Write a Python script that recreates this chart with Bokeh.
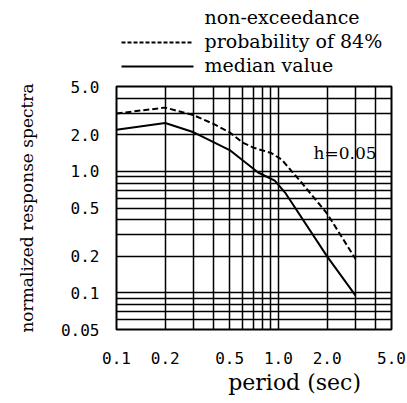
from bokeh.plotting import figure
from bokeh.layouts import column
from bokeh.models import Arrow, FixedTicker, Label, Range1d
from bokeh.embed import file_html
from bokeh.resources import INLINE

# ---- data ----
period_median = [0.1, 0.2, 0.3, 0.5, 0.75, 0.95, 1.1, 2.0, 3.0]
median = [2.2, 2.5, 2.1, 1.5, 0.98, 0.84, 0.67, 0.2, 0.095]

period_p84 = [0.1, 0.2, 0.3, 0.4, 0.5, 0.6, 0.7, 0.9, 1.05, 1.4, 2.0, 3.0]
p84 = [3.0, 3.35, 2.9, 2.45, 2.1, 1.73, 1.57, 1.42, 1.25, 0.8, 0.45, 0.19]

x_major = [0.1, 0.2, 0.5, 1.0, 2.0, 5.0]
x_labels = ["0.1", "0.2", "0.5", "1.0", "2.0", "5.0"]
x_minor = [0.3, 0.4, 0.6, 0.7, 0.8, 0.9, 3.0, 4.0]

y_major = [0.05, 0.1, 0.2, 0.5, 1.0, 2.0, 5.0]
y_labels = ["0.05", "0.1", "0.2", "0.5", "1.0", "2.0", "5.0"]
y_minor = [0.06, 0.07, 0.08, 0.09, 0.3, 0.4, 0.6, 0.7, 0.8, 0.9, 3.0, 4.0]

legend_labels = ["non-exceedance", "probability of 84%", "median value"]
damping_text = "h=0.05"
x_title = "period (sec)"
y_title = "normalized response spectra"

SERIF = "DejaVu Serif"
MONO = "DejaVu Sans Mono"
DASH = "6 3"
W = 407
LEFT, RIGHT = 116, 16

xr = Range1d(0.1, 5.0)
yr = Range1d(0.05, 5.0)


def blank(fig):
    fig.outline_line_color = None
    fig.grid.visible = False
    fig.background_fill_color = "white"
    fig.border_fill_color = "white"


# ---------- legend strip above (keys + labels) ----------
top = figure(width=W, height=76, x_range=Range1d(0, 1), y_range=Range1d(0, 1),
             output_backend="svg", toolbar_location=None,
             x_axis_location=None, y_axis_location=None,
             min_border_left=LEFT, min_border_right=RIGHT,
             min_border_top=0, min_border_bottom=0)
blank(top)

legend_rows_y = [60, 36, 12]          # screen px from the strip's bottom
legend_keys = [None, "4 2", "solid"]  # key line style per row
for lab, ly, key in zip(legend_labels, legend_rows_y, legend_keys):
    top.add_layout(Label(x=88, y=ly, x_units="screen", y_units="screen",
                         text=lab, text_font=SERIF, text_font_size="19px",
                         text_baseline="middle", text_align="left",
                         text_color="black"))
    if key is not None:
        top.add_layout(Arrow(end=None, start=None,
                             x_start=5, y_start=ly - 2, x_end=77, y_end=ly - 2,
                             start_units="screen", end_units="screen",
                             line_color="black", line_width=2, line_dash=key))

# ---------- main chart ----------
p = figure(width=W, height=294, x_axis_type="log", y_axis_type="log",
           x_range=xr, y_range=yr,
           output_backend="svg", toolbar_location=None,
           min_border_left=LEFT, min_border_right=RIGHT,
           min_border_top=10, min_border_bottom=41)

p.background_fill_color = "white"
p.border_fill_color = "white"
p.outline_line_color = "black"
p.outline_line_width = 2

p.xaxis.ticker = FixedTicker(ticks=x_major, minor_ticks=x_minor)
p.yaxis.ticker = FixedTicker(ticks=y_major, minor_ticks=y_minor)
p.xaxis.major_label_overrides = {v: s for v, s in zip(x_major, x_labels)}
p.yaxis.major_label_overrides = {v: s for v, s in zip(y_major, y_labels)}

for ax in (p.xaxis, p.yaxis):
    ax.axis_line_color = None
    ax.major_tick_line_color = None
    ax.minor_tick_line_color = None
    ax.major_label_text_font = MONO
    ax.major_label_text_font_size = "16px"
    ax.major_label_text_color = "black"

p.xaxis.major_label_standoff = 16
p.yaxis.major_label_standoff = 11

p.yaxis.axis_label = y_title
p.yaxis.axis_label_text_font = SERIF
p.yaxis.axis_label_text_font_size = "17px"
p.yaxis.axis_label_text_font_style = "normal"
p.yaxis.axis_label_text_color = "black"
p.yaxis.axis_label_standoff = 21

for g in (p.xgrid, p.ygrid):
    g.grid_line_color = "black"
    g.grid_line_width = 1.5
    g.grid_line_alpha = 1.0
    g.minor_grid_line_color = "black"
    g.minor_grid_line_width = 1.5
    g.minor_grid_line_alpha = 1.0

p.line(period_p84, p84, line_color="black", line_width=2, line_dash=DASH)
p.line(period_median, median, line_color="black", line_width=2)

p.add_layout(Label(x=1.65, y=1.41, text=damping_text, text_font=SERIF,
                   text_font_size="17px", text_baseline="middle",
                   text_align="left", text_color="black"))

# ---------- x-axis title strip below ----------
bottom = figure(width=W, height=33, x_axis_type="log", x_range=xr,
                y_range=Range1d(0, 1),
                output_backend="svg", toolbar_location=None,
                x_axis_location=None, y_axis_location=None,
                min_border_left=LEFT, min_border_right=RIGHT,
                min_border_top=0, min_border_bottom=0)
blank(bottom)
bottom.add_layout(Label(x=1.26, y=21, y_units="screen", text=x_title,
                        text_font=SERIF, text_font_size="22px",
                        text_baseline="middle", text_align="center",
                        text_color="black"))

layout = column(top, p, bottom, spacing=0)
open("out.html", "w").write(file_html(layout, INLINE))
